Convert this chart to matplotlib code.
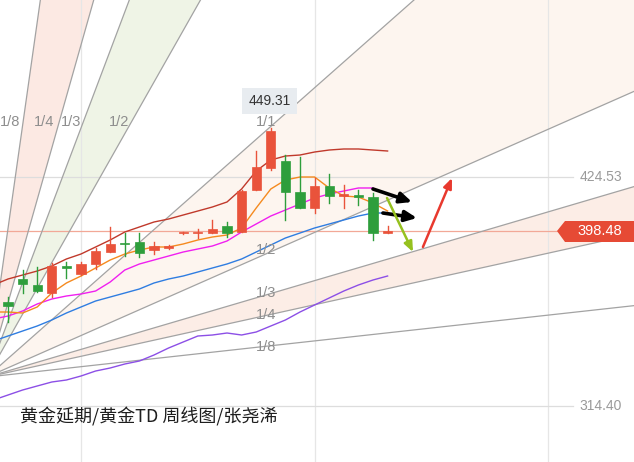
import matplotlib
matplotlib.use("Agg")
import matplotlib.pyplot as plt
from matplotlib.patches import Polygon, Rectangle
import numpy as np

plt.rcParams['font.family'] = ['Noto Sans CJK SC', 'DejaVu Sans']

# ---------------- data ----------------
# weekly candles (open, high, low, close)
opens  = [364.37, 375.42, 372.54, 368.69, 381.67, 377.82, 382.63, 388.39, 392.72, 393.20,
          389.35, 390.32, 397.52, 397.52, 397.52, 400.89, 398.00, 418.18, 428.76, 432.12,
          417.22, 409.54, 420.11, 415.30, 415.78, 414.82, 397.52]
highs  = [366.77, 379.74, 381.19, 383.11, 383.59, 383.59, 390.32, 400.41, 397.52, 397.52,
          393.20, 391.76, 398.00, 399.45, 403.77, 402.81, 418.18, 436.92, 447.98, 435.00,
          434.04, 423.95, 425.87, 420.59, 418.18, 416.74, 400.89]
lows   = [354.76, 368.69, 369.17, 366.77, 375.90, 377.34, 380.23, 388.39, 386.47, 385.99,
          387.43, 389.84, 397.04, 395.12, 397.52, 395.60, 398.00, 418.18, 427.79, 403.77,
          409.54, 407.13, 411.94, 409.54, 410.98, 394.16, 397.52]
closes = [362.45, 373.02, 369.65, 381.67, 380.71, 382.63, 388.87, 392.24, 392.24, 387.91,
          391.28, 391.28, 398.00, 398.00, 399.45, 397.52, 417.70, 429.24, 446.53, 417.22,
          409.54, 420.11, 415.30, 416.26, 414.82, 397.52, 398.48]

# moving averages, first value belongs to the bar before the first candle
ma_darkred = [372.54, 375.42, 377.34, 379.26, 381.67, 385.03, 387.43, 390.80, 394.16, 398.00,
              400.41, 402.81, 404.25, 406.17, 408.09, 410.02, 412.42, 418.67, 427.31, 432.60,
              434.52, 435.00, 436.44, 437.40, 437.89, 437.89, 437.40, 436.92]
ma_orange = [359.56, 359.56, 359.08, 361.97, 368.69, 373.50, 376.86, 380.71, 384.55, 387.43,
             389.35, 390.80, 390.80, 392.24, 394.16, 395.60, 396.56, 399.93, 409.54, 418.67,
             422.99, 424.43, 424.43, 419.15, 415.30, 414.82, 411.94, 408.09]
ma_magenta = [356.20, 357.64, 360.04, 363.41, 365.81, 367.25, 368.21, 369.65, 373.98, 379.74,
              382.63, 384.55, 386.47, 388.39, 389.84, 391.28, 393.68, 398.00, 401.85, 405.69,
              408.57, 411.46, 414.34, 416.26, 417.70, 419.15, 419.15]
ma_blue = [345.63, 348.03, 350.43, 352.84, 355.72, 359.08, 361.97, 364.85, 366.77, 368.69,
           370.62, 373.50, 375.42, 376.86, 378.78, 380.71, 382.63, 385.03, 388.39, 391.76,
           395.12, 397.52, 399.93, 401.85, 403.77, 405.69, 407.13, 407.13]
ma_purple = [317.28, 319.68, 322.08, 324.01, 325.93, 326.89, 328.81, 331.21, 332.66, 334.58,
             336.02, 338.90, 342.27, 345.15, 348.03, 348.51, 349.47, 348.51, 349.95, 352.84,
             355.72, 359.56, 362.93, 366.29, 369.65, 372.54, 374.94, 376.86]

# Gann fan
gann_origin_bar = -1.44
gann_origin_price = 328.3
gann_unit = 6.195         # price per bar for the 1/1 line
gann_ratios = [8, 4, 3, 2, 1, 1/2, 1/3, 1/4, 1/8]

# price levels on the right
level_high = 424.53
level_last = 398.48
level_low = 314.40
peak_label = "449.31"

# arrows: (start bar, start price, end bar, end price)
arrow_black1 = (25.0, 418.67, 27.67, 412.42)
arrow_black2 = (25.68, 407.13, 28.01, 404.73)
arrow_green = (25.96, 414.34, 27.74, 388.39)
arrow_red = (28.42, 390.80, 30.41, 423.95)

title = "黄金延期/黄金TD 周线图/张尧浠"

# ---------------- figure ----------------
W, H = 634, 462
fig = plt.figure(figsize=(W / 100, H / 100), dpi=100)
ax = fig.add_axes([0, 0, 1, 1])
ax.set_axis_off()
ax.set_xlim(-0.548, 42.877)
ax.set_ylim(287.49, 509.48)

num_font = ['Liberation Sans', 'DejaVu Sans']

def fan_price(ratio, x):
    return gann_origin_price + gann_unit * ratio * (np.asarray(x) - gann_origin_bar)

far = 300
def band(r1, r2, color):
    poly = Polygon([(gann_origin_bar, gann_origin_price),
                    (far, fan_price(r1, far)), (far, fan_price(r2, far))],
                   closed=True, facecolor=color, edgecolor='none', zorder=0)
    ax.add_patch(poly)

band(8, 4, '#fce9e3')
band(3, 2, '#eff4e6')
band(1, 1/2, '#fdf5ef')
band(1/3, 1/4, '#fcede6')

# grid lines
for xb in [5, 21, 37]:
    ax.axvline(xb, color='#e6e6e6', lw=0.9, zorder=1)
ax.plot([-1, 38.7], [level_high, level_high], color='#dddddd', lw=0.9, zorder=1)
ax.plot([-1, 38.7], [level_low, level_low], color='#dddddd', lw=0.9, zorder=1)
ax.axhline(level_last, color='#f2a897', lw=0.9, zorder=1)

xs = np.array([gann_origin_bar, far])
for r in gann_ratios:
    ax.plot(xs, fan_price(r, xs), color='#a3a3a3', lw=0.9, zorder=2)

# fan labels
lab_col = '#8e8e8e'
top_p = 450.9
ax.text(-0.55, top_p, "1/8", color=lab_col, fontsize=10.5, ha='left', va='center',
        family=num_font, zorder=6)
for txt, xb in [("1/4", 2.47), ("1/3", 4.32), ("1/2", 7.6), ("1/1", 17.67)]:
    ax.text(xb, top_p, txt, color=lab_col, fontsize=10.5, ha='center', va='center',
            family=num_font, zorder=6)
for txt, yp in [("1/2", 389.35), ("1/3", 368.69), ("1/4", 358.12), ("1/8", 342.75)]:
    ax.text(17.7, yp, txt, color=lab_col, fontsize=10.5, ha='center', va='center',
            family=num_font, zorder=6)

# moving averages
def ma_plot(vals, color, lw=1.0):
    xb = np.arange(len(vals)) - 1
    ax.plot(xb, vals, color=color, lw=lw, zorder=4, solid_joinstyle='round')

ma_plot(ma_purple, '#8c4fe6')
ma_plot(ma_blue, '#2f7de1')
ma_plot(ma_magenta, '#f01ff0')
ma_plot(ma_orange, '#f58a1f')
ma_plot(ma_darkred, '#c0392b')

# candles
up_col = '#e9533b'
dn_col = '#2e9e3c'
bw = 0.62
for i, (o, h, l, c) in enumerate(zip(opens, highs, lows, closes)):
    col = up_col if c >= o else dn_col
    ax.plot([i, i], [l, h], color=col, lw=1.0, zorder=5)
    bottom = min(o, c)
    height = max(abs(c - o), 0.45)
    ax.add_patch(Rectangle((i - bw / 2, bottom), bw, height, facecolor=col,
                           edgecolor=col, lw=0.5, zorder=5))

# arrows
def arrow(a, color, lw, hl, hw):
    ax.annotate('', xy=(a[2], a[3]), xytext=(a[0], a[1]),
                arrowprops=dict(arrowstyle=f'-|>,head_length={hl},head_width={hw}',
                                color=color, lw=lw, shrinkA=0, shrinkB=0),
                zorder=7)

arrow(arrow_black1, 'black', 2.6, 0.7, 0.32)
arrow(arrow_black2, 'black', 2.6, 0.7, 0.32)
arrow(arrow_green, '#96c11f', 1.8, 0.6, 0.25)
arrow(arrow_red, '#e8392e', 1.8, 0.6, 0.25)

# peak label
ax.text(17.9, 460.9, peak_label, fontsize=10, color='#333333', ha='center', va='center',
        family=num_font, zorder=8,
        bbox=dict(boxstyle='square,pad=0.45', facecolor='#e8ecf0', edgecolor='none'))

# right-side price labels
ax.text(40.6, level_high, f"{level_high:.2f}", fontsize=10, color='#9a9a9a',
        ha='center', va='center', family=num_font, zorder=8)
ax.text(40.6, level_low, f"{level_low:.2f}", fontsize=10, color='#9a9a9a',
        ha='center', va='center', family=num_font, zorder=8)

tag = Polygon([(557 / W, 1 - 231 / H), (565 / W, 1 - 221 / H), (634 / W, 1 - 221 / H),
               (634 / W, 1 - 242 / H), (565 / W, 1 - 242 / H)],
              closed=True, transform=ax.transAxes, facecolor='#e64a35',
              edgecolor='none', zorder=8)
ax.add_patch(tag)
ax.text(600 / W, 1 - 231 / H, f"{level_last:.2f}", transform=ax.transAxes,
        fontsize=10.5, color='white', ha='center', va='center', family=num_font, zorder=9)

# title
ax.text(20 / W, 1 - 417 / H, title, transform=ax.transAxes, fontsize=13,
        color='#1e1e1e', ha='left', va='center', zorder=9,
        family=['Noto Sans CJK SC', 'DejaVu Sans'])

fig.savefig("out.png", dpi=100)
